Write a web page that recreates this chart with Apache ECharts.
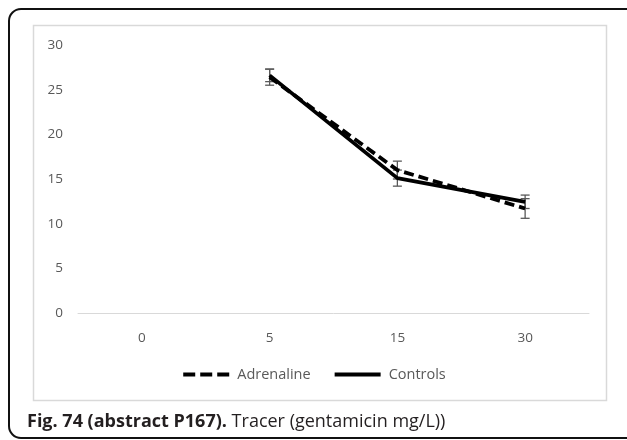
<!DOCTYPE html>
<html><head><meta charset="utf-8">
<script src="https://cdn.jsdelivr.net/npm/echarts@6/dist/echarts.min.js"></script>
<style>html,body{margin:0;padding:0;background:#fff}#c{width:627px;height:440px}</style>
</head><body><div id="c"></div>
<script>
var categories = ['0', '5', '15', '30'];
var adrenaline = [null, 26.4, 16.0, 11.7];
var adrenalineErr = [null, 0.9, 1.0, 1.1];
var controls = [null, 26.6, 15.1, 12.45];
var controlsErr = [null, 0.7, 0.9, 0.75];
var yTicks = [0, 5, 10, 15, 20, 25, 30];

function errData(vals, errs) {
  var out = [];
  for (var i = 0; i < vals.length; i++) {
    if (vals[i] != null) out.push([i, vals[i] - errs[i], vals[i] + errs[i]]);
  }
  return out;
}
function renderErr(params, api) {
  var x = api.value(0);
  var lo = api.coord([x, api.value(1)]);
  var hi = api.coord([x, api.value(2)]);
  var hw = 4.5;
  var st = {stroke: '#595959', lineWidth: 1.3};
  return {type: 'group', children: [
    {type: 'line', shape: {x1: lo[0], y1: lo[1], x2: hi[0], y2: hi[1]}, style: st},
    {type: 'line', shape: {x1: lo[0] - hw, y1: lo[1], x2: lo[0] + hw, y2: lo[1]}, style: st},
    {type: 'line', shape: {x1: hi[0] - hw, y1: hi[1], x2: hi[0] + hw, y2: hi[1]}, style: st}
  ]};
}
var chart = echarts.init(document.getElementById('c'), null, {renderer: 'canvas'});
var font = '"Open Sans", sans-serif';
chart.setOption({
  animation: false,
  textStyle: {fontFamily: font},
  graphic: [
    {type: 'rect', shape: {x: 9, y: 9, width: 660, height: 429, r: 12}, style: {fill: 'none', stroke: '#111', lineWidth: 2}, z: -10},
    {type: 'rect', shape: {x: 33.5, y: 25.5, width: 573, height: 375}, style: {fill: 'none', stroke: '#d9d9d9', lineWidth: 1.5}, z: -10}
  ],
  title: {
    left: 22, top: 408,
    text: '{b|Fig. 74 (abstract P167).} {n|Tracer (gentamicin mg/L))}',
    textStyle: {rich: {
      b: {fontFamily: font, fontWeight: 'bold', fontSize: 18, color: '#231f20'},
      n: {fontFamily: font, fontWeight: 'normal', fontSize: 18, color: '#231f20'}
    }}
  },
  grid: {left: 78, right: 38, top: 45, bottom: 127, containLabel: false},
  legend: {
    top: 362, left: 'center',
    itemWidth: 46, itemHeight: 10, itemGap: 22,
    itemStyle: {color: 'transparent', borderWidth: 0},
    lineStyle: {width: 4},
    textStyle: {color: '#595959', fontSize: 14.5, fontFamily: font, padding: [0, 0, 0, 3]},
    data: [
      {name: 'Adrenaline', lineStyle: {width: 4, type: [12, 5]}},
      {name: 'Controls'}
    ]
  },
  xAxis: {
    type: 'category', data: categories, boundaryGap: true,
    axisLine: {lineStyle: {color: '#d9d9d9', width: 1}},
    axisTick: {show: false},
    axisLabel: {color: '#595959', fontSize: 13.5, margin: 18}
  },
  yAxis: {
    type: 'value', min: 0, max: 30, interval: 5,
    axisLine: {show: false}, axisTick: {show: false},
    splitLine: {show: false},
    axisLabel: {color: '#595959', fontSize: 13.5, margin: 15}
  },
  series: [
    {name: 'Adrenaline', type: 'line', data: adrenaline, symbol: 'none', z: 3,
      lineStyle: {color: '#000', width: 3.8, type: [10, 5]}, itemStyle: {color: '#000'}},
    {name: 'Controls', type: 'line', data: controls, symbol: 'none', z: 4,
      lineStyle: {color: '#000', width: 3.8}, itemStyle: {color: '#000'}},
    {type: 'custom', data: errData(adrenaline, adrenalineErr), renderItem: renderErr, z: 2},
    {type: 'custom', data: errData(controls, controlsErr), renderItem: renderErr, z: 2}
  ]
});
</script></body></html>
